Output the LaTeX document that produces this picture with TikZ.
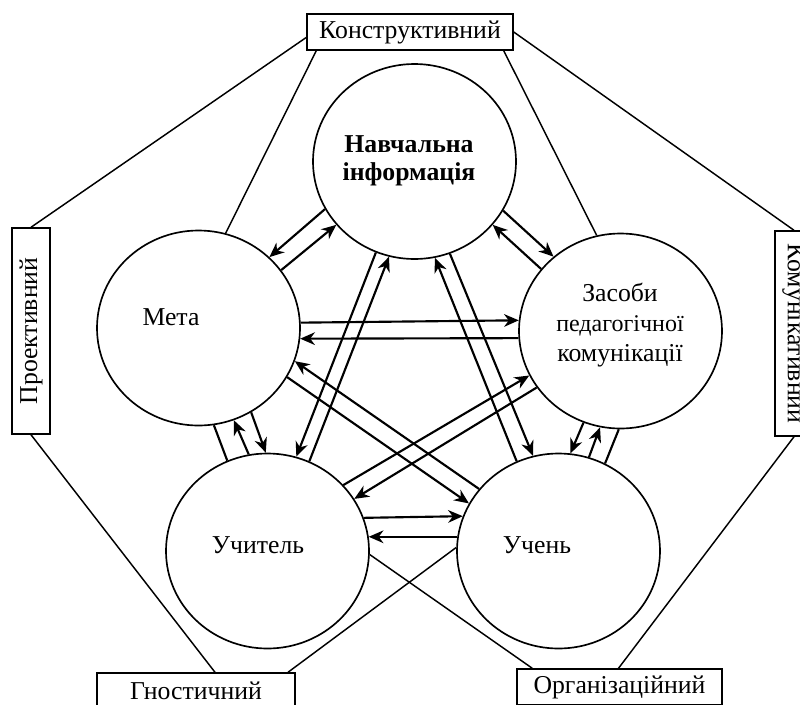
\documentclass[tikz,border=0pt]{standalone}
\usepackage{fontspec}
\setmainfont{Liberation Serif}
\usetikzlibrary{arrows.meta,calc,shapes.geometric}
\begin{document}
\begin{tikzpicture}[x=0.75pt,y=-0.75pt,
  every node/.style={font=\fontsize{19.3}{22.5}\selectfont},
  circ/.style={draw,ellipse,line width=1.25pt,inner sep=0pt,minimum width=152.25pt,minimum height=146.25pt},
  fbox/.style={draw,line width=1.1pt,inner sep=0pt,minimum height=27pt},
  arr/.style={line width=1.6pt,-{Stealth[length=11pt,width=9.5pt,inset=3.5pt]}},
  pl/.style={line width=1.6pt},
  ln/.style={line width=1.1pt}]
\useasboundingbox (0,0) rectangle (800,704);
% circles
\node[circ] (N) at (414.5,161.5) {};
\node[circ] (M) at (198.5,328) {};
\node[circ] (Z) at (620.5,331) {};
\node[circ] (U) at (267.5,551) {};
\node[circ] (S) at (558.5,551) {};
% texts
\node[font=\fontsize{19.3}{21}\selectfont\bfseries,align=center] (tN) at (409,161) {Навчальна\\інформація};
\node (tM) at (171,317) {Мета};
\node[align=center] (tZ) at (620,325) {Засоби\\{\fontsize{18}{21}\selectfont педагогічної}\\комунікації};
\node (tU) at (258,545) {Учитель};
\node (tS) at (537,545) {Учень};
% boxes
\node[fbox,minimum width=154.5pt] (K) at (410,32) {Конструктивний};
\node[fbox,rotate=90,minimum width=154.5pt,minimum height=28.5pt] (P) at (31,331) {Проективний};
\node[fbox,rotate=-90,minimum width=153.75pt,minimum height=28.5pt] (R) at (794,333.5) {Комунікативний};
\node[fbox,minimum width=148.5pt] (G) at (196,691) {Гностичний};
\node[fbox,minimum width=153.75pt] (O) at (619.5,687) {Організаційний};
% outer lines
\draw[ln] (K.183) -- (P.east);
\draw[ln] ($(K.south west)+(10,0)$) -- (M.74.4);
\draw[ln] (K.east) -- (R.west);
\draw[ln] ($(K.south east)+(-10,0)$) -- (Z.104.9);
\draw[ln] (P.west) -- ($(G.north)+(19,0)$);
\draw[ln] (U.-2) -- ($(O.north west)+(16,0)$);
\draw[ln] (S.178) -- ($(G.north)+(92,0)$);
\draw[ln] ($(O.north)+(-1,0)$) -- (R.east);
% arrows
\draw[arr] (N.208) -- (M.45);
\draw[arr] (M.35) -- (N.219);
\draw[arr] (N.-29) -- (Z.132);
\draw[arr] (Z.142) -- (N.-39);
\draw[arr] (M.3.4) -- (Z.174.9);
\draw[arr] (Z.184.5) -- (M.-6.2);
\draw[arr] (M.-58.8) -- (U.91.5);
\draw[arr] (U.101.8) -- (M.-69.4);
\draw[pl] (M.-81.3) -- (U.114);
\draw[arr] (Z.-112.4) -- (S.83.2);
\draw[arr] (S.72.4) -- (Z.-102.3);
\draw[pl] (Z.-91.5) -- (S.62.1);
\draw[arr] (N.-113.5) -- (U.73);
\draw[arr] (U.65) -- (N.-105.1);
\draw[arr] (N.-69.2) -- (S.105.4);
\draw[arr] (S.115.5) -- (N.-78.2);
\draw[arr] (M.-29.5) -- (S.152);
\draw[arr] (S.142.2) -- (M.-19.9);
\draw[arr] (U.41.2) -- (Z.206.7);
\draw[arr] (Z.214.9) -- (U.31.8);
\draw[arr] (U.19.8) -- (S.160.3);
\draw[arr] (S.172.1) -- (U.8);
\end{tikzpicture}
\end{document}
